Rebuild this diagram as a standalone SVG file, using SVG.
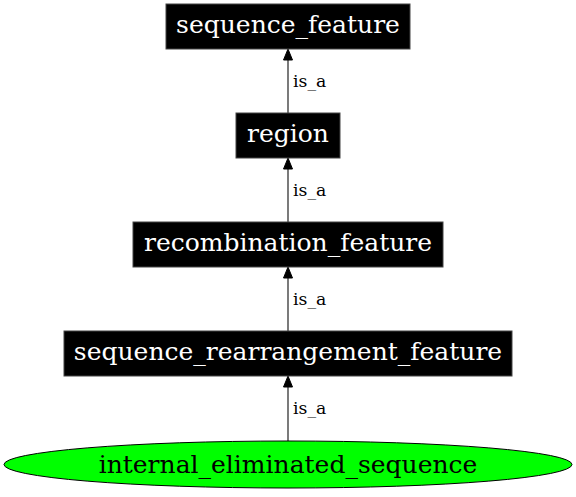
<svg xmlns="http://www.w3.org/2000/svg" width="576" height="497" viewBox="0 0 576 497">
<defs>
<style>
.box{fill:#000;stroke:#444;stroke-width:1}
.nl{font-family:"DejaVu Serif",serif;font-size:25px;fill:#fff;text-anchor:middle}
.el{font-family:"DejaVu Serif",serif;font-size:17.3px;fill:#000}
.edge{stroke:#333;stroke-width:1.3;fill:none}
.ah{fill:#000;stroke:#000}
</style>
</defs>
<rect width="576" height="497" fill="#fff"/>
<g id="connectors">
<g id="e1"><line class="edge" x1="288" y1="113" x2="288" y2="60"/><polygon class="ah" points="288,49 283.5,60 292.5,60"/><text class="el" x="293" y="87">is_a</text></g>
<g id="e2"><line class="edge" x1="288" y1="222" x2="288" y2="169"/><polygon class="ah" points="288,158 283.5,169 292.5,169"/><text class="el" x="293" y="196">is_a</text></g>
<g id="e3"><line class="edge" x1="288" y1="331" x2="288" y2="278"/><polygon class="ah" points="288,267 283.5,278 292.5,278"/><text class="el" x="293" y="305">is_a</text></g>
<g id="e4"><line class="edge" x1="288" y1="441" x2="288" y2="387"/><polygon class="ah" points="288,376 283.5,387 292.5,387"/><text class="el" x="293" y="414">is_a</text></g>
</g>
<g id="sequence_feature"><rect class="box" x="166" y="4" width="244" height="45"/><text class="nl" x="288" y="33">sequence_feature</text></g>
<g id="region"><rect class="box" x="236" y="113" width="104" height="45"/><text class="nl" x="288" y="142">region</text></g>
<g id="recombination_feature"><rect class="box" x="133" y="222" width="310" height="45"/><text class="nl" x="288" y="251">recombination_feature</text></g>
<g id="sequence_rearrangement_feature"><rect class="box" x="64" y="331" width="448" height="45"/><text class="nl" x="288" y="360">sequence_rearrangement_feature</text></g>
<g id="internal_eliminated_sequence"><ellipse cx="288" cy="464.5" rx="284" ry="23.5" fill="#00ff00" stroke="#000" stroke-width="1"/><text class="nl" x="288" y="473" style="fill:#000">internal_eliminated_sequence</text></g>
</svg>
